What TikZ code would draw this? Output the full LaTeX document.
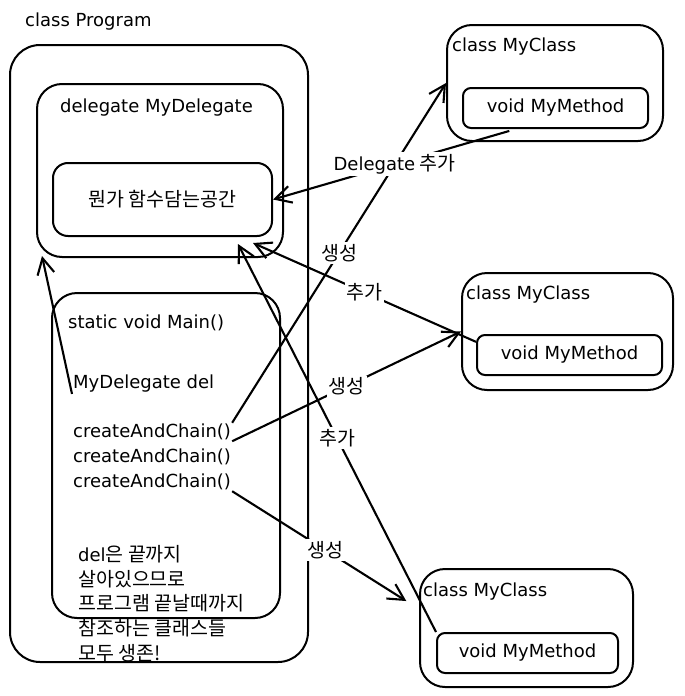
\documentclass[tikz,border=0pt]{standalone}
\usepackage{fontspec}
\setmainfont{DejaVu Sans}
\newfontfamily\kr{Noto Sans CJK KR}
\usetikzlibrary{arrows.meta}
\tikzset{
	box/.style={draw, line width=2pt, rounded corners=#1, inner sep=0pt},
	box/.default=25pt,
	txt/.style={inner sep=1pt, anchor=west},
	krtxt/.style={font=\kr\fontsize{19.5}{24}\selectfont},
	arr/.style={line width=2.1pt, -{Straight Barb[length=16pt,width=17pt,line width=2.1pt]}},
	lbl/.style={fill=white, inner sep=2pt, krtxt}
}

\begin{document}
\begin{tikzpicture}[x=1pt, y=-1pt, font=\fontsize{18}{22}\selectfont]
			\useasboundingbox (0,0) rectangle (685,696);
			%%%%% START %%%%%
			% class Program
			\node[box=30pt, minimum width=298pt, minimum height=617pt] (prog) at (159, 353.5) {};
			\node[txt] (progname) at (24, 22) {class Program};
			
			\node[box, minimum width=246pt, minimum height=173pt] (dlg) at (160, 170.5) {};
			\node[txt] (dlgname) at (59, 108) {delegate MyDelegate};
			\node[box=15pt, minimum width=219pt, minimum height=73pt, krtxt] (fn) at (162.5, 199.5) {뭔가 함수담는공간};
			
			\node[box, minimum width=228pt, minimum height=325pt] (mainb) at (166, 455.5) {};
			\node[txt] (mainname) at (67, 323) {static void Main()};
			\node[txt] (decl) at (72, 384) {MyDelegate del};
			\node[txt] (cc1) at (72, 432) {createAndChain()};
			\node[txt] (cc2) at (72, 457) {createAndChain()};
			\node[txt] (cc3) at (72, 482) {createAndChain()};
			\node[txt, anchor=north west, align=left, font=\kr\fontsize{19.5}{24.7}\selectfont] (note) at (77, 544)
				{{\rmfamily\fontsize{18}{24.7}\selectfont del}은 끝까지\\살아있으므로\\프로그램 끝날때까지\\참조하는 클래스들\\모두 생존!};
			
			% class MyClass x3
			\node[box, minimum width=216pt, minimum height=116pt] (c1) at (555, 83) {};
			\node[txt] (c1name) at (451, 47) {class MyClass};
			\node[box=8pt, minimum width=185pt, minimum height=40pt] (m1) at (555.5, 108) {void MyMethod};
			
			\node[box, minimum width=211pt, minimum height=117pt] (c2) at (567.5, 331.5) {};
			\node[txt] (c2name) at (465, 295) {class MyClass};
			\node[box=8pt, minimum width=185pt, minimum height=40pt] (m2) at (569.5, 355) {void MyMethod};
			
			\node[box, minimum width=213pt, minimum height=118pt] (c3) at (526.5, 628) {};
			\node[txt] (c3name) at (422, 592) {class MyClass};
			\node[box=8pt, minimum width=181pt, minimum height=40pt] (m3) at (527.5, 653) {void MyMethod};
			
			% arrows
			\coordinate (dlgin0) at (42, 256);
			\coordinate (dlgin1) at (253, 243);
			\coordinate (dlgin2) at (238, 244);
			
			\draw[arr] (decl.south west) -- (dlgin0);
			\draw[arr] (cc1.north east) -- node[lbl] {생성} (c1.west);
			\draw[arr] (cc1.south east) -- node[lbl] {생성} (c2.west);
			\draw[arr, shorten >=15pt] (cc3.south east) -- node[lbl] {생성} (c3.170);
			\draw[arr, shorten <=7pt] (m1.208) -- node[lbl] {{\rmfamily\fontsize{18}{22}\selectfont Delegate} 추가} (fn.east);
			\draw[arr] (m2.172) -- node[lbl] {추가} (dlgin1);
			\draw[arr] (m3.north west) -- node[lbl] {추가} (dlgin2);
			%%%%% END %%%%%
\end{tikzpicture}
\end{document}
